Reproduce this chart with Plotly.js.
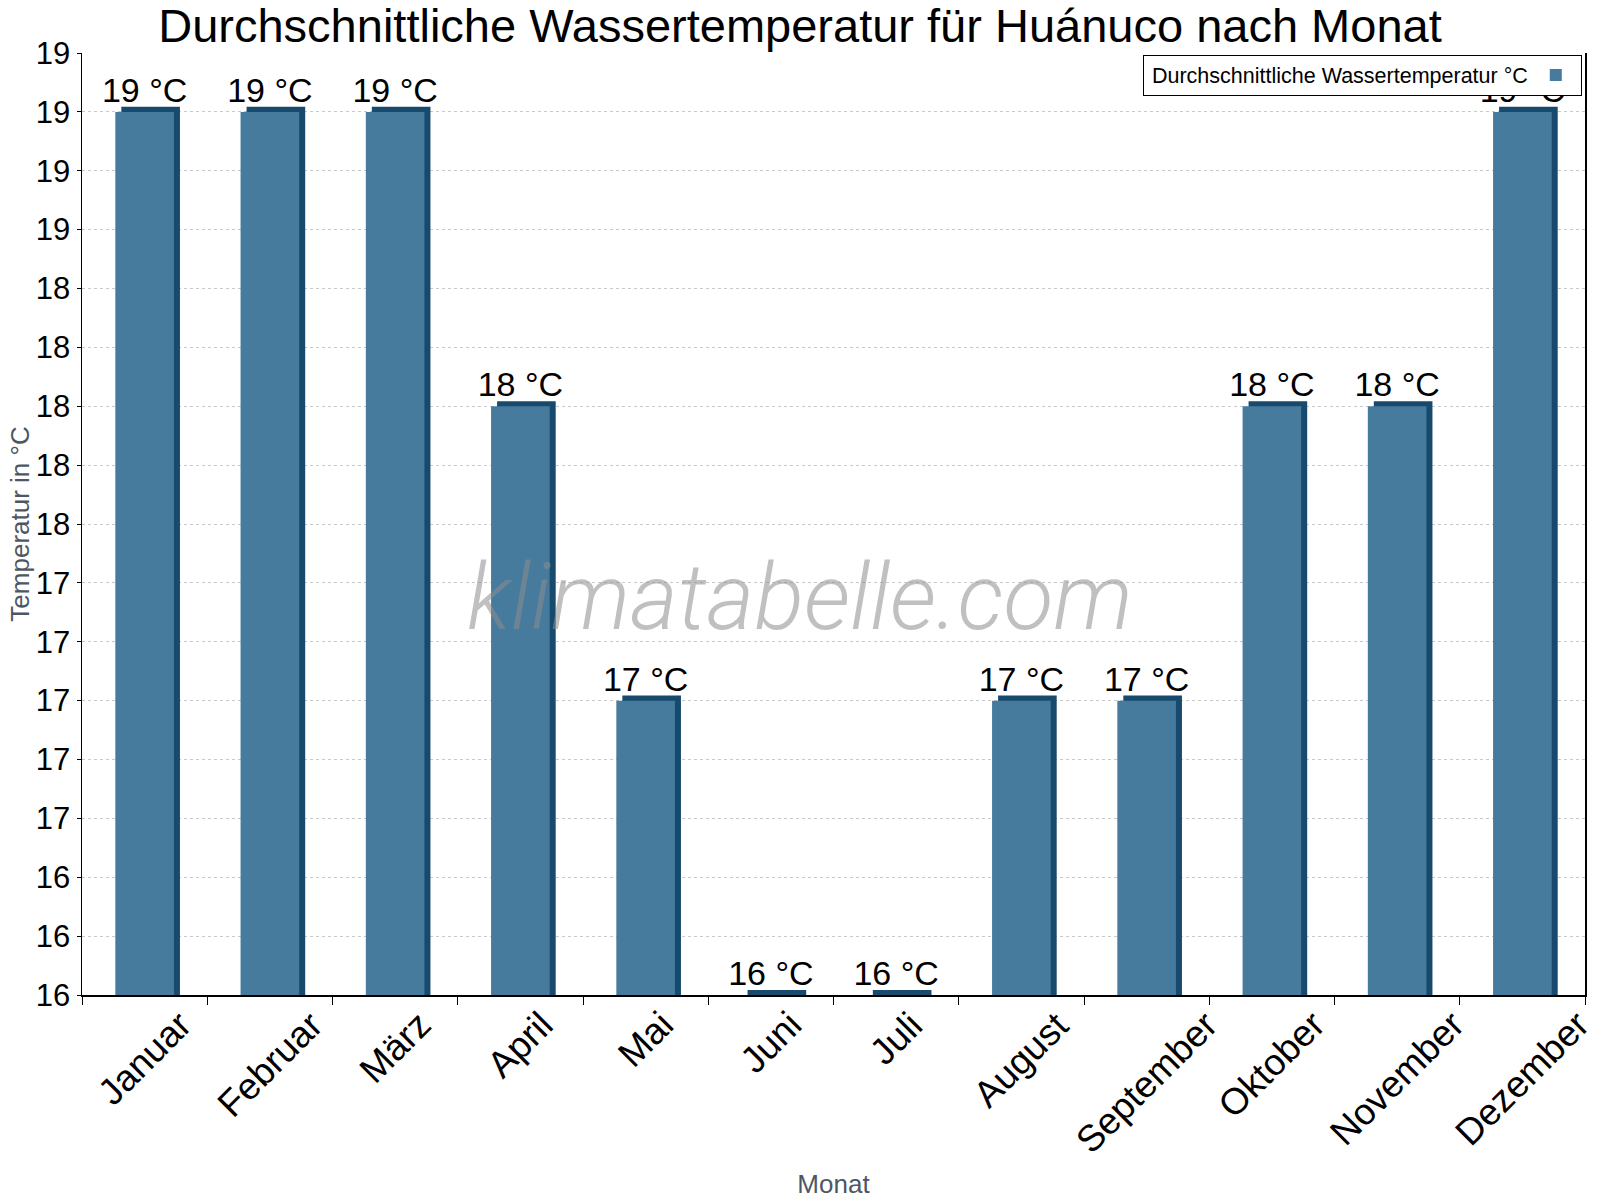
<!DOCTYPE html>
<html>
<head>
<meta charset="utf-8">
<script src="https://cdn.plot.ly/plotly-3.0.1.min.js"></script>
<style>
  body { margin: 0; background: #fff; }
  #chart { width: 1600px; height: 1200px; }
</style>
</head>
<body>
<div id="chart"></div>
<script>
// Months and average water temperature (°C).
const months = ["Januar", "Februar", "März", "April", "Mai", "Juni", "Juli", "August", "September", "Oktober", "November", "Dezember"];
const waterTemp = [19, 19, 19, 18, 17, 16, 16, 17, 17, 18, 18, 19];

const seriesName = "Durchschnittliche Wassertemperatur °C";
const faceColor = "#467b9e";
const sideColor = "#174a6c";
const font = "Liberation Sans, Arial, sans-serif";

// Bars sit on numeric positions; ticks go on the boundaries between months.
const xPos = months.map((m, i) => i);
const boundaries = [...xPos.map(i => i - 0.5), months.length - 0.5];

// Darker copy of the bars, shifted a bit right and up, gives the 3D edge.
const traces = [
  {
    type: "bar", x: xPos, y: waterTemp, base: 0.017,
    width: 0.468, offset: -0.186,
    marker: { color: sideColor },
    showlegend: false, hoverinfo: "skip"
  },
  {
    type: "bar", x: xPos, y: waterTemp, name: "",
    width: 0.468, offset: -0.234,
    marker: { color: faceColor, line: { color: sideColor, width: 0 } },
    texttemplate: "%{y:.0f} °C", textposition: "outside",
    textfont: { family: font, size: 34, color: "#000" },
    constraintext: "none", cliponaxis: false
  }
];

// Month labels: rotated, their box centred under each bar.
const monthLabels = months.map((m, i) => ({
  text: m, x: i, xref: "x", y: 0, yref: "paper",
  xanchor: "center", yanchor: "top", yshift: -6,
  textangle: -45, showarrow: false,
  font: { family: font, size: 37, color: "#000" }
}));

// Y axis title, placed by hand so it sits where the reference has it.
const yTitle = {
  text: "Temperatur in °C", xref: "paper", yref: "paper",
  x: -0.0415, y: 0.5, xanchor: "center", yanchor: "middle",
  textangle: -90, showarrow: false,
  font: { family: font, size: 26, color: "#4d5763" }
};

const watermark = {
  text: "klimatabelle.com", xref: "paper", yref: "paper",
  x: 0.4777, y: 0.422, xanchor: "center", yanchor: "middle", showarrow: false,
  font: { family: "Roboto, sans-serif", size: 92, weight: 300, style: "italic", color: "rgba(140,140,140,0.55)" }
};

const layout = {
  width: 1600, height: 1200,
  margin: { l: 81.5, r: 14.5, t: 53, b: 205 },
  paper_bgcolor: "#fff", plot_bgcolor: "#fff",
  barmode: "overlay",
  font: { family: font, color: "#000" },
  title: {
    text: "Durchschnittliche Wassertemperatur für Huánuco nach Monat",
    font: { family: font, size: 47, color: "#000" },
    x: 0.5, xanchor: "center", y: 0.979, yanchor: "middle"
  },
  xaxis: {
    range: [-0.5, months.length - 0.5],
    tickmode: "array", tickvals: boundaries, showticklabels: false,
    ticks: "outside", ticklen: 8, tickcolor: "#000", tickwidth: 1,
    showline: true, linecolor: "#000", linewidth: 1.5,
    showgrid: false, zeroline: false, fixedrange: true,
    title: { text: "Monat", font: { family: font, size: 26, color: "#4d5763" }, standoff: 171 }
  },
  yaxis: {
    range: [16, 19.2], tick0: 16, dtick: 0.2, tickformat: ".0f",
    ticks: "outside", ticklen: 4, tickcolor: "#000",
    tickfont: { family: font, size: 31, color: "#000" },
    showline: true, linecolor: "#000", linewidth: 1.5, mirror: true,
    showgrid: true, gridcolor: "#c8c8c8", griddash: "dot", gridwidth: 1,
    zeroline: false, fixedrange: true
  },
  showlegend: true,
  legend: {
    x: 0.998, xanchor: "right", y: 0.9766, yanchor: "middle",
    bgcolor: "#fff", bordercolor: "#000", borderwidth: 1,
    title: { text: "\u00a0" + seriesName, side: "left", font: { family: font, size: 21.5, color: "#000" } },
    font: { family: font, size: 20, color: "#000" }
  },
  annotations: [watermark, yTitle, ...monthLabels]
};

Plotly.newPlot("chart", traces, layout, { staticPlot: true });
</script>
</body>
</html>
